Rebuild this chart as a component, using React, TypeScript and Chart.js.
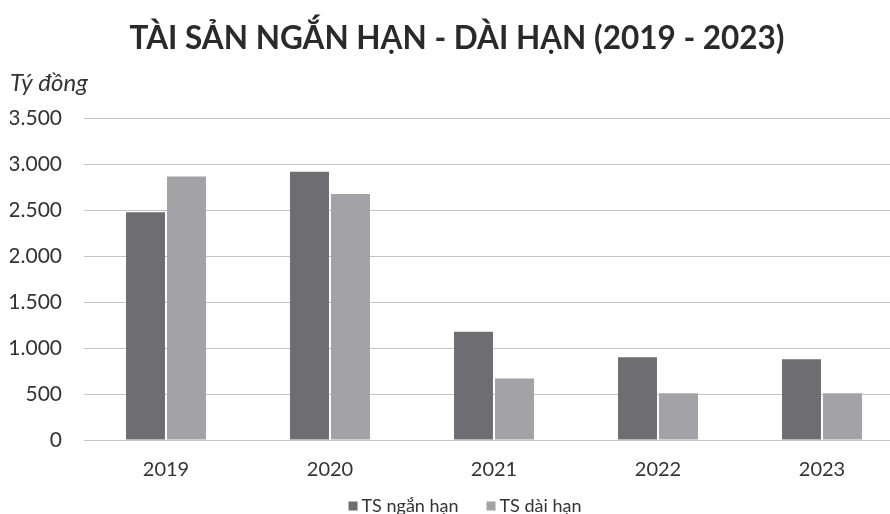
import React, { useEffect, useRef } from "react";
import { Chart, registerables } from "chart.js";

Chart.register(...registerables);

const categories = ["2019", "2020", "2021", "2022", "2023"];
const shortTermAssets = [2480, 2920, 1180, 900, 880];
const longTermAssets = [2870, 2680, 670, 510, 510];
const yTicks = [0, 500, 1000, 1500, 2000, 2500, 3000, 3500];
const titleText = "TÀI SẢN NGẮN HẠN - DÀI HẠN (2019 - 2023)";
const unitText = "Tý đồng";
const seriesNames = ["TS ngắn hạn", "TS dài hạn"];
const seriesColors = ["#6e6e72", "#a2a2a7"];

const FONT = "Lato, 'Open Sans', sans-serif";

const legendPlugin = {
  id: "bottomLegend",
  afterDraw(chart: any) {
    const ctx = chart.ctx;
    const fontSize = 18;
    const box = 9;
    const boxGap = 4;
    const itemGap = 28;
    ctx.save();
    ctx.font = `${fontSize}px ${FONT}`;
    ctx.textBaseline = "middle";
    ctx.textAlign = "left";
    const items = chart.data.datasets.map((d: any) => ({
      label: d.label,
      color: d.backgroundColor,
      w: ctx.measureText(d.label).width,
    }));
    const total =
      items.reduce((s: number, it: any) => s + box + boxGap + it.w, 0) +
      itemGap * (items.length - 1);
    const cx = 465;
    const cy = 506;
    let x = cx - total / 2;
    for (const it of items) {
      ctx.fillStyle = it.color;
      ctx.fillRect(x, cy - box / 2, box, box);
      x += box + boxGap;
      ctx.fillStyle = "#333";
      ctx.fillText(it.label, x, cy);
      x += it.w + itemGap;
    }
    ctx.restore();
  },
};

export default function App() {
  const ref = useRef<HTMLCanvasElement | null>(null);
  useEffect(() => {
    document.body.style.margin = "0";
    document.body.style.overflow = "hidden";
    const ctx = ref.current!;
    const chart = new Chart(ctx, {
      type: "bar",
      data: {
        labels: categories,
        datasets: [
          {
            label: seriesNames[0],
            data: shortTermAssets,
            backgroundColor: seriesColors[0],
            categoryPercentage: 0.5,
            barPercentage: 0.95,
          },
          {
            label: seriesNames[1],
            data: longTermAssets,
            backgroundColor: seriesColors[1],
            categoryPercentage: 0.5,
            barPercentage: 0.95,
          },
        ],
      },
      plugins: [legendPlugin],
      options: {
        animation: false,
        responsive: false,
        maintainAspectRatio: false,
        layout: { padding: { left: 10, right: 0, top: 0, bottom: 22 } },
        plugins: {
          title: {
            display: true,
            text: titleText,
            color: "#2a2a2a",
            font: { family: FONT, size: 31.5, weight: "bold" },
            padding: { top: 20, bottom: 6 },
          },
          subtitle: {
            display: true,
            text: unitText,
            align: "start",
            color: "#333",
            font: { family: FONT, size: 24, style: "italic" },
            padding: { top: 5, bottom: 21 },
          },
          legend: { display: false },
          tooltip: { enabled: false },
        },
        scales: {
          x: {
            grid: { display: false },
            border: { display: false },
            ticks: {
              color: "#333",
              font: { family: FONT, size: 20 },
              padding: 10,
            },
          },
          y: {
            min: 0,
            max: 3500,
            afterBuildTicks: (axis: any) => {
              axis.ticks = yTicks.map((v) => ({ value: v }));
            },
            afterFit: (axis: any) => {
              axis.width = 74;
            },
            grid: { color: "#c4c4c4", lineWidth: 1, drawTicks: false },
            border: { display: false },
            ticks: {
              color: "#333",
              font: { family: FONT, size: 21 },
              padding: 22,
              callback: (v: any) => Number(v).toLocaleString("de-DE"),
            },
          },
        },
      },
    });
    return () => chart.destroy();
  }, []);
  return (
    <div style={{ position: "relative", width: 890, height: 514, overflow: "hidden", background: "#fff" }}>
      <canvas ref={ref} width={904} height={514} style={{ position: "absolute", left: 0, top: 0, width: 904, height: 514 }} />
    </div>
  );
}
